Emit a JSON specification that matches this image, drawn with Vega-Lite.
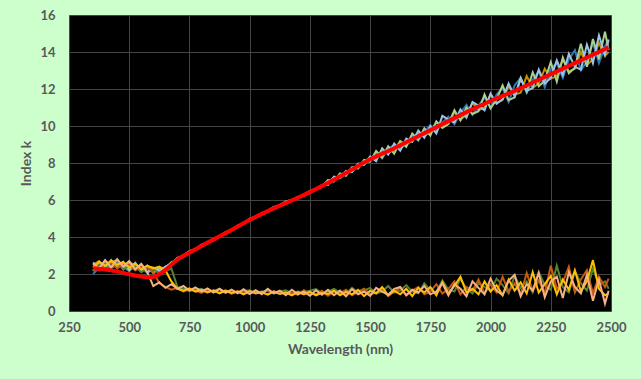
{
"$schema": "https://vega.github.io/schema/vega-lite/v6.json",
"width": 542, "height": 296,
"autosize": "none",
"padding": {"left": 69, "top": 15, "right": 30, "bottom": 68},
"background": "#CCFFCC",
"config": {
 "view": {"fill": "#000000", "stroke": "#A9BCD0", "strokeWidth": 1},
 "axis": {"grid": true, "gridColor": "#444444", "gridWidth": 1, "domain": false, "ticks": false, "labelFlush": false,
  "labelFont": "Lato", "labelFontWeight": "bold", "labelFontSize": 13, "labelColor": "#595959",
  "titleFont": "Lato", "titleFontWeight": "bold", "titleFontSize": 14, "titleColor": "#595959"}
},
"datasets": {
"up": [
{"s":"ua","x":350,"y":2.50},{"s":"ua","x":375,"y":2.70},{"s":"ua","x":400,"y":2.35},{"s":"ua","x":425,"y":2.65},{"s":"ua","x":450,"y":2.75},{"s":"ua","x":475,"y":2.30},{"s":"ua","x":500,"y":2.60},{"s":"ua","x":525,"y":2.50},{"s":"ua","x":550,"y":2.15},{"s":"ua","x":575,"y":2.40},{"s":"ua","x":600,"y":2.35},{"s":"ua","x":625,"y":2.25},{"s":"ua","x":650,"y":2.37},{"s":"ua","x":675,"y":2.60},{"s":"ua","x":700,"y":2.80},{"s":"ua","x":750,"y":3.19},{"s":"ua","x":800,"y":3.51},{"s":"ua","x":850,"y":3.88},{"s":"ua","x":900,"y":4.19},{"s":"ua","x":950,"y":4.60},{"s":"ua","x":1000,"y":4.91},{"s":"ua","x":1050,"y":5.26},{"s":"ua","x":1100,"y":5.54},{"s":"ua","x":1150,"y":5.88},{"s":"ua","x":1200,"y":6.11},{"s":"ua","x":1250,"y":6.45},{"s":"ua","x":1300,"y":6.74},{"s":"ua","x":1325,"y":7.00},{"s":"ua","x":1350,"y":7.20},{"s":"ua","x":1375,"y":7.18},{"s":"ua","x":1400,"y":7.42},{"s":"ua","x":1425,"y":7.75},{"s":"ua","x":1450,"y":7.70},{"s":"ua","x":1475,"y":8.10},{"s":"ua","x":1500,"y":8.28},{"s":"ua","x":1525,"y":8.20},{"s":"ua","x":1550,"y":8.70},{"s":"ua","x":1575,"y":8.55},{"s":"ua","x":1600,"y":8.70},{"s":"ua","x":1625,"y":9.20},{"s":"ua","x":1650,"y":9.00},{"s":"ua","x":1675,"y":9.20},{"s":"ua","x":1700,"y":9.65},{"s":"ua","x":1725,"y":9.45},{"s":"ua","x":1750,"y":9.70},{"s":"ua","x":1775,"y":10.20},{"s":"ua","x":1800,"y":9.95},{"s":"ua","x":1825,"y":10.15},{"s":"ua","x":1850,"y":10.75},{"s":"ua","x":1875,"y":10.35},{"s":"ua","x":1900,"y":10.60},{"s":"ua","x":1925,"y":11.25},{"s":"ua","x":1950,"y":10.85},{"s":"ua","x":1975,"y":11.00},{"s":"ua","x":2000,"y":11.70},{"s":"ua","x":2025,"y":11.25},{"s":"ua","x":2050,"y":11.40},{"s":"ua","x":2075,"y":12.15},{"s":"ua","x":2100,"y":11.70},{"s":"ua","x":2125,"y":11.80},{"s":"ua","x":2150,"y":12.70},{"s":"ua","x":2175,"y":12.05},{"s":"ua","x":2200,"y":12.30},{"s":"ua","x":2225,"y":13.10},{"s":"ua","x":2250,"y":12.55},{"s":"ua","x":2275,"y":12.70},{"s":"ua","x":2300,"y":13.60},{"s":"ua","x":2325,"y":12.95},{"s":"ua","x":2350,"y":13.10},{"s":"ua","x":2375,"y":14.00},{"s":"ua","x":2400,"y":13.30},{"s":"ua","x":2425,"y":13.60},{"s":"ua","x":2450,"y":14.50},{"s":"ua","x":2475,"y":13.80},{"s":"ua","x":2490,"y":14.00},
{"s":"ub","x":350,"y":2.00},{"s":"ub","x":375,"y":2.35},{"s":"ub","x":400,"y":2.60},{"s":"ub","x":425,"y":2.30},{"s":"ub","x":450,"y":2.55},{"s":"ub","x":475,"y":2.40},{"s":"ub","x":500,"y":2.15},{"s":"ub","x":525,"y":2.45},{"s":"ub","x":550,"y":2.40},{"s":"ub","x":575,"y":2.05},{"s":"ub","x":600,"y":2.30},{"s":"ub","x":625,"y":2.10},{"s":"ub","x":650,"y":2.33},{"s":"ub","x":675,"y":2.56},{"s":"ub","x":700,"y":2.84},{"s":"ub","x":750,"y":3.14},{"s":"ub","x":800,"y":3.55},{"s":"ub","x":850,"y":3.84},{"s":"ub","x":900,"y":4.23},{"s":"ub","x":950,"y":4.56},{"s":"ub","x":1000,"y":4.95},{"s":"ub","x":1050,"y":5.20},{"s":"ub","x":1100,"y":5.58},{"s":"ub","x":1150,"y":5.84},{"s":"ub","x":1200,"y":6.15},{"s":"ub","x":1250,"y":6.40},{"s":"ub","x":1300,"y":6.79},{"s":"ub","x":1325,"y":6.90},{"s":"ub","x":1350,"y":7.00},{"s":"ub","x":1375,"y":7.38},{"s":"ub","x":1400,"y":7.52},{"s":"ub","x":1425,"y":7.55},{"s":"ub","x":1450,"y":7.98},{"s":"ub","x":1475,"y":7.95},{"s":"ub","x":1500,"y":8.10},{"s":"ub","x":1525,"y":8.55},{"s":"ub","x":1550,"y":8.25},{"s":"ub","x":1575,"y":8.80},{"s":"ub","x":1600,"y":8.95},{"s":"ub","x":1625,"y":8.75},{"s":"ub","x":1650,"y":9.05},{"s":"ub","x":1675,"y":9.50},{"s":"ub","x":1700,"y":9.20},{"s":"ub","x":1725,"y":9.70},{"s":"ub","x":1750,"y":10.05},{"s":"ub","x":1775,"y":9.70},{"s":"ub","x":1800,"y":10.20},{"s":"ub","x":1825,"y":10.50},{"s":"ub","x":1850,"y":10.10},{"s":"ub","x":1875,"y":10.70},{"s":"ub","x":1900,"y":11.15},{"s":"ub","x":1925,"y":10.60},{"s":"ub","x":1950,"y":11.10},{"s":"ub","x":1975,"y":11.55},{"s":"ub","x":2000,"y":11.00},{"s":"ub","x":2025,"y":11.70},{"s":"ub","x":2050,"y":12.05},{"s":"ub","x":2075,"y":11.30},{"s":"ub","x":2100,"y":12.20},{"s":"ub","x":2125,"y":12.60},{"s":"ub","x":2150,"y":11.80},{"s":"ub","x":2175,"y":12.50},{"s":"ub","x":2200,"y":12.95},{"s":"ub","x":2225,"y":12.10},{"s":"ub","x":2250,"y":13.10},{"s":"ub","x":2275,"y":13.40},{"s":"ub","x":2300,"y":12.60},{"s":"ub","x":2325,"y":13.60},{"s":"ub","x":2350,"y":14.10},{"s":"ub","x":2375,"y":13.00},{"s":"ub","x":2400,"y":13.50},{"s":"ub","x":2425,"y":14.50},{"s":"ub","x":2450,"y":13.40},{"s":"ub","x":2475,"y":14.30},{"s":"ub","x":2490,"y":14.70},
{"s":"uc","x":350,"y":2.17},{"s":"uc","x":375,"y":2.65},{"s":"uc","x":400,"y":2.38},{"s":"uc","x":425,"y":2.75},{"s":"uc","x":450,"y":2.33},{"s":"uc","x":475,"y":2.65},{"s":"uc","x":500,"y":2.20},{"s":"uc","x":525,"y":2.60},{"s":"uc","x":550,"y":2.20},{"s":"uc","x":575,"y":2.45},{"s":"uc","x":600,"y":2.05},{"s":"uc","x":625,"y":2.32},{"s":"uc","x":650,"y":2.30},{"s":"uc","x":675,"y":2.63},{"s":"uc","x":700,"y":2.78},{"s":"uc","x":750,"y":3.23},{"s":"uc","x":800,"y":3.48},{"s":"uc","x":850,"y":3.91},{"s":"uc","x":900,"y":4.15},{"s":"uc","x":950,"y":4.62},{"s":"uc","x":1000,"y":4.88},{"s":"uc","x":1050,"y":5.30},{"s":"uc","x":1100,"y":5.51},{"s":"uc","x":1150,"y":5.92},{"s":"uc","x":1200,"y":6.08},{"s":"uc","x":1250,"y":6.49},{"s":"uc","x":1300,"y":6.72},{"s":"uc","x":1325,"y":7.08},{"s":"uc","x":1350,"y":7.01},{"s":"uc","x":1375,"y":7.44},{"s":"uc","x":1400,"y":7.31},{"s":"uc","x":1425,"y":7.77},{"s":"uc","x":1450,"y":7.74},{"s":"uc","x":1475,"y":8.17},{"s":"uc","x":1500,"y":8.08},{"s":"uc","x":1525,"y":8.65},{"s":"uc","x":1550,"y":8.30},{"s":"uc","x":1575,"y":8.90},{"s":"uc","x":1600,"y":8.50},{"s":"uc","x":1625,"y":9.16},{"s":"uc","x":1650,"y":8.87},{"s":"uc","x":1675,"y":9.59},{"s":"uc","x":1700,"y":9.25},{"s":"uc","x":1725,"y":9.87},{"s":"uc","x":1750,"y":9.48},{"s":"uc","x":1775,"y":10.25},{"s":"uc","x":1800,"y":9.90},{"s":"uc","x":1825,"y":10.10},{"s":"uc","x":1850,"y":10.85},{"s":"uc","x":1875,"y":10.30},{"s":"uc","x":1900,"y":11.00},{"s":"uc","x":1925,"y":10.65},{"s":"uc","x":1950,"y":10.80},{"s":"uc","x":1975,"y":11.70},{"s":"uc","x":2000,"y":10.95},{"s":"uc","x":2025,"y":11.45},{"s":"uc","x":2050,"y":12.20},{"s":"uc","x":2075,"y":11.40},{"s":"uc","x":2100,"y":11.55},{"s":"uc","x":2125,"y":12.60},{"s":"uc","x":2150,"y":11.85},{"s":"uc","x":2175,"y":12.90},{"s":"uc","x":2200,"y":12.15},{"s":"uc","x":2225,"y":12.45},{"s":"uc","x":2250,"y":13.45},{"s":"uc","x":2275,"y":12.40},{"s":"uc","x":2300,"y":13.70},{"s":"uc","x":2325,"y":12.85},{"s":"uc","x":2350,"y":13.15},{"s":"uc","x":2375,"y":14.45},{"s":"uc","x":2400,"y":13.20},{"s":"uc","x":2425,"y":14.70},{"s":"uc","x":2450,"y":13.60},{"s":"uc","x":2475,"y":15.10},{"s":"uc","x":2490,"y":14.10},
{"s":"ud","x":350,"y":2.62},{"s":"ud","x":375,"y":2.30},{"s":"ud","x":400,"y":2.73},{"s":"ud","x":425,"y":2.40},{"s":"ud","x":450,"y":2.68},{"s":"ud","x":475,"y":2.25},{"s":"ud","x":500,"y":2.55},{"s":"ud","x":525,"y":2.25},{"s":"ud","x":550,"y":2.50},{"s":"ud","x":575,"y":2.10},{"s":"ud","x":600,"y":2.30},{"s":"ud","x":625,"y":2.15},{"s":"ud","x":650,"y":2.40},{"s":"ud","x":675,"y":2.54},{"s":"ud","x":700,"y":2.87},{"s":"ud","x":750,"y":3.12},{"s":"ud","x":800,"y":3.59},{"s":"ud","x":850,"y":3.82},{"s":"ud","x":900,"y":4.26},{"s":"ud","x":950,"y":4.53},{"s":"ud","x":1000,"y":4.99},{"s":"ud","x":1050,"y":5.21},{"s":"ud","x":1100,"y":5.63},{"s":"ud","x":1150,"y":5.81},{"s":"ud","x":1200,"y":6.17},{"s":"ud","x":1250,"y":6.37},{"s":"ud","x":1300,"y":6.81},{"s":"ud","x":1325,"y":6.81},{"s":"ud","x":1350,"y":7.26},{"s":"ud","x":1375,"y":7.20},{"s":"ud","x":1400,"y":7.58},{"s":"ud","x":1425,"y":7.51},{"s":"ud","x":1450,"y":7.94},{"s":"ud","x":1475,"y":7.90},{"s":"ud","x":1500,"y":8.35},{"s":"ud","x":1525,"y":8.10},{"s":"ud","x":1550,"y":8.80},{"s":"ud","x":1575,"y":8.45},{"s":"ud","x":1600,"y":9.05},{"s":"ud","x":1625,"y":8.66},{"s":"ud","x":1650,"y":9.32},{"s":"ud","x":1675,"y":9.14},{"s":"ud","x":1700,"y":9.75},{"s":"ud","x":1725,"y":9.37},{"s":"ud","x":1750,"y":9.98},{"s":"ud","x":1775,"y":9.60},{"s":"ud","x":1800,"y":10.55},{"s":"ud","x":1825,"y":10.35},{"s":"ud","x":1850,"y":10.20},{"s":"ud","x":1875,"y":10.90},{"s":"ud","x":1900,"y":10.45},{"s":"ud","x":1925,"y":11.30},{"s":"ud","x":1950,"y":11.10},{"s":"ud","x":1975,"y":10.85},{"s":"ud","x":2000,"y":11.75},{"s":"ud","x":2025,"y":11.20},{"s":"ud","x":2050,"y":11.45},{"s":"ud","x":2075,"y":12.30},{"s":"ud","x":2100,"y":11.60},{"s":"ud","x":2125,"y":12.55},{"s":"ud","x":2150,"y":11.90},{"s":"ud","x":2175,"y":12.05},{"s":"ud","x":2200,"y":13.05},{"s":"ud","x":2225,"y":12.30},{"s":"ud","x":2250,"y":12.60},{"s":"ud","x":2275,"y":13.55},{"s":"ud","x":2300,"y":12.75},{"s":"ud","x":2325,"y":13.90},{"s":"ud","x":2350,"y":13.20},{"s":"ud","x":2375,"y":13.05},{"s":"ud","x":2400,"y":14.40},{"s":"ud","x":2425,"y":13.40},{"s":"ud","x":2450,"y":14.90},{"s":"ud","x":2475,"y":13.85},{"s":"ud","x":2490,"y":14.65}
],
"lo": [
{"s":"la","x":350,"y":2.20},{"s":"la","x":375,"y":2.50},{"s":"la","x":400,"y":2.30},{"s":"la","x":425,"y":2.45},{"s":"la","x":450,"y":2.65},{"s":"la","x":475,"y":2.25},{"s":"la","x":500,"y":2.45},{"s":"la","x":525,"y":2.40},{"s":"la","x":550,"y":2.10},{"s":"la","x":575,"y":2.30},{"s":"la","x":600,"y":2.25},{"s":"la","x":625,"y":2.05},{"s":"la","x":650,"y":2.15},{"s":"la","x":675,"y":2.30},{"s":"la","x":700,"y":1.30},{"s":"la","x":725,"y":1.20},{"s":"la","x":750,"y":1.08},{"s":"la","x":775,"y":1.15},{"s":"la","x":800,"y":1.20},{"s":"la","x":825,"y":1.05},{"s":"la","x":850,"y":1.10},{"s":"la","x":875,"y":1.18},{"s":"la","x":900,"y":1.02},{"s":"la","x":925,"y":1.10},{"s":"la","x":950,"y":1.00},{"s":"la","x":975,"y":1.08},{"s":"la","x":1000,"y":1.12},{"s":"la","x":1025,"y":0.98},{"s":"la","x":1050,"y":1.05},{"s":"la","x":1075,"y":1.10},{"s":"la","x":1100,"y":0.95},{"s":"la","x":1125,"y":1.05},{"s":"la","x":1150,"y":1.12},{"s":"la","x":1175,"y":0.95},{"s":"la","x":1200,"y":1.05},{"s":"la","x":1225,"y":1.00},{"s":"la","x":1250,"y":1.10},{"s":"la","x":1275,"y":1.18},{"s":"la","x":1300,"y":0.95},{"s":"la","x":1325,"y":1.05},{"s":"la","x":1350,"y":1.20},{"s":"la","x":1375,"y":1.00},{"s":"la","x":1400,"y":0.95},{"s":"la","x":1425,"y":1.25},{"s":"la","x":1450,"y":1.00},{"s":"la","x":1475,"y":1.10},{"s":"la","x":1500,"y":1.25},{"s":"la","x":1525,"y":0.95},{"s":"la","x":1550,"y":1.05},{"s":"la","x":1575,"y":1.35},{"s":"la","x":1600,"y":1.00},{"s":"la","x":1625,"y":1.10},{"s":"la","x":1650,"y":1.40},{"s":"la","x":1675,"y":1.05},{"s":"la","x":1700,"y":0.95},{"s":"la","x":1725,"y":1.50},{"s":"la","x":1750,"y":1.10},{"s":"la","x":1775,"y":1.00},{"s":"la","x":1800,"y":1.65},{"s":"la","x":1825,"y":1.15},{"s":"la","x":1850,"y":1.05},{"s":"la","x":1875,"y":1.75},{"s":"la","x":1900,"y":1.20},{"s":"la","x":1925,"y":0.95},{"s":"la","x":1950,"y":1.50},{"s":"la","x":1975,"y":1.30},{"s":"la","x":2000,"y":1.10},{"s":"la","x":2025,"y":1.75},{"s":"la","x":2050,"y":1.40},{"s":"la","x":2075,"y":0.95},{"s":"la","x":2100,"y":1.90},{"s":"la","x":2125,"y":1.25},{"s":"la","x":2150,"y":1.60},{"s":"la","x":2175,"y":1.00},{"s":"la","x":2200,"y":2.10},{"s":"la","x":2225,"y":1.40},{"s":"la","x":2250,"y":1.15},{"s":"la","x":2275,"y":2.45},{"s":"la","x":2300,"y":1.30},{"s":"la","x":2325,"y":1.00},{"s":"la","x":2350,"y":2.15},{"s":"la","x":2375,"y":1.50},{"s":"la","x":2400,"y":1.10},{"s":"la","x":2425,"y":2.30},{"s":"la","x":2450,"y":1.40},{"s":"la","x":2475,"y":1.60},{"s":"la","x":2490,"y":1.20},
{"s":"lb","x":350,"y":2.45},{"s":"lb","x":375,"y":2.20},{"s":"lb","x":400,"y":2.55},{"s":"lb","x":425,"y":2.60},{"s":"lb","x":450,"y":2.30},{"s":"lb","x":475,"y":2.55},{"s":"lb","x":500,"y":2.50},{"s":"lb","x":525,"y":2.20},{"s":"lb","x":550,"y":2.40},{"s":"lb","x":575,"y":2.35},{"s":"lb","x":600,"y":2.10},{"s":"lb","x":625,"y":1.50},{"s":"lb","x":650,"y":1.30},{"s":"lb","x":675,"y":1.15},{"s":"lb","x":700,"y":1.25},{"s":"lb","x":725,"y":1.05},{"s":"lb","x":750,"y":1.18},{"s":"lb","x":775,"y":1.10},{"s":"lb","x":800,"y":0.98},{"s":"lb","x":825,"y":1.15},{"s":"lb","x":850,"y":1.05},{"s":"lb","x":875,"y":1.00},{"s":"lb","x":900,"y":1.12},{"s":"lb","x":925,"y":0.92},{"s":"lb","x":950,"y":1.08},{"s":"lb","x":975,"y":1.00},{"s":"lb","x":1000,"y":0.95},{"s":"lb","x":1025,"y":1.10},{"s":"lb","x":1050,"y":0.98},{"s":"lb","x":1075,"y":0.92},{"s":"lb","x":1100,"y":1.08},{"s":"lb","x":1125,"y":0.95},{"s":"lb","x":1150,"y":1.02},{"s":"lb","x":1175,"y":0.98},{"s":"lb","x":1200,"y":0.88},{"s":"lb","x":1225,"y":1.12},{"s":"lb","x":1250,"y":0.95},{"s":"lb","x":1275,"y":0.90},{"s":"lb","x":1300,"y":1.10},{"s":"lb","x":1325,"y":0.82},{"s":"lb","x":1350,"y":1.05},{"s":"lb","x":1375,"y":0.95},{"s":"lb","x":1400,"y":1.15},{"s":"lb","x":1425,"y":0.85},{"s":"lb","x":1450,"y":1.05},{"s":"lb","x":1475,"y":1.20},{"s":"lb","x":1500,"y":0.90},{"s":"lb","x":1525,"y":1.00},{"s":"lb","x":1550,"y":1.20},{"s":"lb","x":1575,"y":0.80},{"s":"lb","x":1600,"y":1.05},{"s":"lb","x":1625,"y":1.25},{"s":"lb","x":1650,"y":0.85},{"s":"lb","x":1675,"y":1.10},{"s":"lb","x":1700,"y":1.30},{"s":"lb","x":1725,"y":0.90},{"s":"lb","x":1750,"y":1.05},{"s":"lb","x":1775,"y":1.45},{"s":"lb","x":1800,"y":0.95},{"s":"lb","x":1825,"y":1.20},{"s":"lb","x":1850,"y":1.60},{"s":"lb","x":1875,"y":0.90},{"s":"lb","x":1900,"y":1.30},{"s":"lb","x":1925,"y":1.10},{"s":"lb","x":1950,"y":1.70},{"s":"lb","x":1975,"y":0.95},{"s":"lb","x":2000,"y":1.45},{"s":"lb","x":2025,"y":1.00},{"s":"lb","x":2050,"y":1.85},{"s":"lb","x":2075,"y":1.05},{"s":"lb","x":2100,"y":1.50},{"s":"lb","x":2125,"y":0.90},{"s":"lb","x":2150,"y":2.05},{"s":"lb","x":2175,"y":1.10},{"s":"lb","x":2200,"y":1.65},{"s":"lb","x":2225,"y":0.95},{"s":"lb","x":2250,"y":2.45},{"s":"lb","x":2275,"y":1.20},{"s":"lb","x":2300,"y":1.55},{"s":"lb","x":2325,"y":2.40},{"s":"lb","x":2350,"y":1.00},{"s":"lb","x":2375,"y":1.70},{"s":"lb","x":2400,"y":2.20},{"s":"lb","x":2425,"y":0.95},{"s":"lb","x":2450,"y":1.85},{"s":"lb","x":2475,"y":1.30},{"s":"lb","x":2490,"y":1.75},
{"s":"lc","x":350,"y":2.35},{"s":"lc","x":375,"y":2.65},{"s":"lc","x":400,"y":2.45},{"s":"lc","x":425,"y":2.70},{"s":"lc","x":450,"y":2.50},{"s":"lc","x":475,"y":2.65},{"s":"lc","x":500,"y":2.35},{"s":"lc","x":525,"y":2.55},{"s":"lc","x":550,"y":2.25},{"s":"lc","x":575,"y":2.45},{"s":"lc","x":600,"y":2.30},{"s":"lc","x":625,"y":2.40},{"s":"lc","x":650,"y":2.20},{"s":"lc","x":675,"y":1.60},{"s":"lc","x":700,"y":1.20},{"s":"lc","x":725,"y":1.10},{"s":"lc","x":750,"y":1.22},{"s":"lc","x":775,"y":1.05},{"s":"lc","x":800,"y":1.15},{"s":"lc","x":825,"y":1.00},{"s":"lc","x":850,"y":1.12},{"s":"lc","x":875,"y":0.95},{"s":"lc","x":900,"y":1.10},{"s":"lc","x":925,"y":0.98},{"s":"lc","x":950,"y":1.05},{"s":"lc","x":975,"y":0.90},{"s":"lc","x":1000,"y":1.08},{"s":"lc","x":1025,"y":0.95},{"s":"lc","x":1050,"y":1.02},{"s":"lc","x":1075,"y":0.88},{"s":"lc","x":1100,"y":1.05},{"s":"lc","x":1125,"y":0.92},{"s":"lc","x":1150,"y":1.00},{"s":"lc","x":1175,"y":0.85},{"s":"lc","x":1200,"y":1.02},{"s":"lc","x":1225,"y":0.90},{"s":"lc","x":1250,"y":1.05},{"s":"lc","x":1275,"y":0.85},{"s":"lc","x":1300,"y":0.98},{"s":"lc","x":1325,"y":0.92},{"s":"lc","x":1350,"y":1.10},{"s":"lc","x":1375,"y":0.85},{"s":"lc","x":1400,"y":1.05},{"s":"lc","x":1425,"y":0.90},{"s":"lc","x":1450,"y":1.15},{"s":"lc","x":1475,"y":0.80},{"s":"lc","x":1500,"y":1.10},{"s":"lc","x":1525,"y":0.95},{"s":"lc","x":1550,"y":1.30},{"s":"lc","x":1575,"y":0.85},{"s":"lc","x":1600,"y":1.10},{"s":"lc","x":1625,"y":0.90},{"s":"lc","x":1650,"y":1.20},{"s":"lc","x":1675,"y":0.80},{"s":"lc","x":1700,"y":1.25},{"s":"lc","x":1725,"y":1.00},{"s":"lc","x":1750,"y":1.30},{"s":"lc","x":1775,"y":0.85},{"s":"lc","x":1800,"y":1.55},{"s":"lc","x":1825,"y":0.95},{"s":"lc","x":1850,"y":1.35},{"s":"lc","x":1875,"y":1.85},{"s":"lc","x":1900,"y":1.00},{"s":"lc","x":1925,"y":1.20},{"s":"lc","x":1950,"y":0.90},{"s":"lc","x":1975,"y":1.60},{"s":"lc","x":2000,"y":1.05},{"s":"lc","x":2025,"y":1.40},{"s":"lc","x":2050,"y":0.85},{"s":"lc","x":2075,"y":1.70},{"s":"lc","x":2100,"y":1.10},{"s":"lc","x":2125,"y":1.55},{"s":"lc","x":2150,"y":0.95},{"s":"lc","x":2175,"y":2.10},{"s":"lc","x":2200,"y":1.00},{"s":"lc","x":2225,"y":1.45},{"s":"lc","x":2250,"y":1.90},{"s":"lc","x":2275,"y":0.90},{"s":"lc","x":2300,"y":1.70},{"s":"lc","x":2325,"y":1.15},{"s":"lc","x":2350,"y":2.20},{"s":"lc","x":2375,"y":1.05},{"s":"lc","x":2400,"y":1.60},{"s":"lc","x":2425,"y":2.75},{"s":"lc","x":2450,"y":1.20},{"s":"lc","x":2475,"y":0.85},{"s":"lc","x":2490,"y":0.95},
{"s":"ld","x":350,"y":2.55},{"s":"ld","x":375,"y":2.30},{"s":"ld","x":400,"y":2.75},{"s":"ld","x":425,"y":2.35},{"s":"ld","x":450,"y":2.80},{"s":"ld","x":475,"y":2.40},{"s":"ld","x":500,"y":2.70},{"s":"ld","x":525,"y":2.25},{"s":"ld","x":550,"y":2.55},{"s":"ld","x":575,"y":2.10},{"s":"ld","x":600,"y":1.35},{"s":"ld","x":625,"y":1.55},{"s":"ld","x":650,"y":1.25},{"s":"ld","x":675,"y":1.45},{"s":"ld","x":700,"y":1.20},{"s":"ld","x":725,"y":1.35},{"s":"ld","x":750,"y":1.10},{"s":"ld","x":775,"y":1.28},{"s":"ld","x":800,"y":1.05},{"s":"ld","x":825,"y":1.22},{"s":"ld","x":850,"y":1.00},{"s":"ld","x":875,"y":1.20},{"s":"ld","x":900,"y":0.98},{"s":"ld","x":925,"y":1.15},{"s":"ld","x":950,"y":0.95},{"s":"ld","x":975,"y":1.18},{"s":"ld","x":1000,"y":0.92},{"s":"ld","x":1025,"y":1.12},{"s":"ld","x":1050,"y":0.90},{"s":"ld","x":1075,"y":1.20},{"s":"ld","x":1100,"y":0.95},{"s":"ld","x":1125,"y":1.10},{"s":"ld","x":1150,"y":0.85},{"s":"ld","x":1175,"y":1.15},{"s":"ld","x":1200,"y":0.90},{"s":"ld","x":1225,"y":1.05},{"s":"ld","x":1250,"y":0.82},{"s":"ld","x":1275,"y":1.12},{"s":"ld","x":1300,"y":0.88},{"s":"ld","x":1325,"y":1.15},{"s":"ld","x":1350,"y":0.85},{"s":"ld","x":1375,"y":1.10},{"s":"ld","x":1400,"y":0.80},{"s":"ld","x":1425,"y":1.18},{"s":"ld","x":1450,"y":0.90},{"s":"ld","x":1475,"y":1.05},{"s":"ld","x":1500,"y":0.82},{"s":"ld","x":1525,"y":1.25},{"s":"ld","x":1550,"y":1.05},{"s":"ld","x":1575,"y":0.88},{"s":"ld","x":1600,"y":1.20},{"s":"ld","x":1625,"y":1.30},{"s":"ld","x":1650,"y":0.85},{"s":"ld","x":1675,"y":1.15},{"s":"ld","x":1700,"y":1.00},{"s":"ld","x":1725,"y":1.35},{"s":"ld","x":1750,"y":0.90},{"s":"ld","x":1775,"y":1.05},{"s":"ld","x":1800,"y":1.50},{"s":"ld","x":1825,"y":0.85},{"s":"ld","x":1850,"y":1.45},{"s":"ld","x":1875,"y":1.20},{"s":"ld","x":1900,"y":0.80},{"s":"ld","x":1925,"y":1.60},{"s":"ld","x":1950,"y":1.25},{"s":"ld","x":1975,"y":0.90},{"s":"ld","x":2000,"y":1.75},{"s":"ld","x":2025,"y":1.10},{"s":"ld","x":2050,"y":0.85},{"s":"ld","x":2075,"y":1.65},{"s":"ld","x":2100,"y":1.95},{"s":"ld","x":2125,"y":0.80},{"s":"ld","x":2150,"y":1.45},{"s":"ld","x":2175,"y":1.10},{"s":"ld","x":2200,"y":2.05},{"s":"ld","x":2225,"y":0.75},{"s":"ld","x":2250,"y":1.60},{"s":"ld","x":2275,"y":1.85},{"s":"ld","x":2300,"y":0.70},{"s":"ld","x":2325,"y":2.10},{"s":"ld","x":2350,"y":1.30},{"s":"ld","x":2375,"y":0.95},{"s":"ld","x":2400,"y":1.95},{"s":"ld","x":2425,"y":0.55},{"s":"ld","x":2450,"y":1.70},{"s":"ld","x":2475,"y":0.40},{"s":"ld","x":2490,"y":1.10}
],
"mean": [
{"x":350,"y":2.31},{"x":400,"y":2.24},{"x":450,"y":2.13},{"x":500,"y":1.99},{"x":550,"y":1.86},{"x":590,"y":1.83},{"x":625,"y":2.0},{"x":650,"y":2.22},{"x":700,"y":2.78},{"x":750,"y":3.15},{"x":800,"y":3.52},{"x":900,"y":4.2},{"x":1000,"y":4.92},{"x":1100,"y":5.55},{"x":1200,"y":6.12},{"x":1300,"y":6.75},{"x":1400,"y":7.46},{"x":1500,"y":8.2},{"x":1600,"y":8.8},{"x":1700,"y":9.45},{"x":1800,"y":10.1},{"x":1900,"y":10.75},{"x":2000,"y":11.35},{"x":2100,"y":11.9},{"x":2200,"y":12.5},{"x":2300,"y":13.1},{"x":2400,"y":13.7},{"x":2490,"y":14.25}
]
},
"encoding": {
 "x": {"field": "x", "type": "quantitative", "scale": {"domain": [250, 2500], "nice": false},
  "axis": {"title": "Wavelength (nm)", "format": "d", "values": [250,500,750,1000,1250,1500,1750,2000,2250,2500], "labelPadding": 10, "titlePadding": 8}},
 "y": {"field": "y", "type": "quantitative", "scale": {"domain": [0, 16], "nice": false},
  "axis": {"title": "Index k", "values": [0,2,4,6,8,10,12,14,16], "labelPadding": 14, "titlePadding": 6}}
},
"layer": [
 {"data": {"name": "up"}, "mark": {"type": "line", "strokeWidth": 2, "clip": true},
  "encoding": {"color": {"field": "s", "type": "nominal", "legend": null,
   "scale": {"domain": ["ua","ub","uc","ud","la","lb","lc","ld"], "range": ["#BF9000","#2E75B6","#A9D18E","#9DC3E6","#548235","#C55A11","#FFC000","#F4B183"]}}}},
 {"data": {"name": "lo"}, "mark": {"type": "line", "strokeWidth": 2, "clip": true},
  "encoding": {"color": {"field": "s", "type": "nominal", "legend": null}}},
 {"data": {"name": "mean"}, "mark": {"type": "line", "strokeWidth": 4, "color": "#FF0000", "interpolate": "monotone"},
  "encoding": {}}
]
}
